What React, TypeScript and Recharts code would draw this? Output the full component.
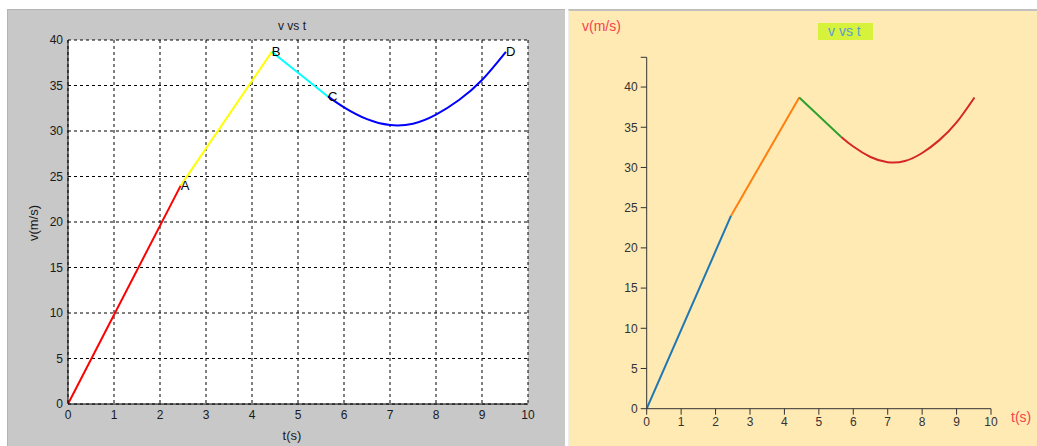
import { ComposedChart, Line, Scatter, XAxis, YAxis, CartesianGrid } from "recharts";

// ticks
const T_TICKS = [0, 1, 2, 3, 4, 5, 6, 7, 8, 9, 10];
const V_TICKS = [0, 5, 10, 15, 20, 25, 30, 35, 40];
const RIGHT_V_MAX = 43.7;

// segments
const OA_T = [0, 2.45];
const OA_V = [0, 24.0];
const AB_T = [2.45, 4.43];
const AB_V = [24.0, 38.7];
const BC_T = [4.43, 5.65];
const BC_V = [38.7, 33.8];
const CD_T = [5.65, 6.0, 6.5, 7.0, 7.5, 8.0, 8.5, 9.0, 9.52];
const CD_V = [33.8, 32.6, 31.3, 30.65, 30.8, 31.8, 33.4, 35.6, 38.7];

// point labels on the left chart
const POINT_NAMES = ["A", "B", "C", "D"];
const POINT_T = [2.45, 4.43, 5.65, 9.52];
const POINT_V = [24.0, 38.7, 33.8, 38.7];

const LEFT_COLORS = ["#ff0000", "#ffff00", "#00ffff", "#0000ff"];
const RIGHT_COLORS = ["#1f77b4", "#ff7f0e", "#2ca02c", "#d62728"];

const zip = (ts: number[], vs: number[]) => ts.map((t, i) => ({ t, v: vs[i] }));

const segments = [
  { key: "oa", data: zip(OA_T, OA_V), curve: "linear" },
  { key: "ab", data: zip(AB_T, AB_V), curve: "linear" },
  { key: "bc", data: zip(BC_T, BC_V), curve: "linear" },
  { key: "cd", data: zip(CD_T, CD_V), curve: "natural" },
];

const points = POINT_NAMES.map((name, i) => ({ name, t: POINT_T[i], v: POINT_V[i] }));

const FONT = "'Liberation Sans', Arial, sans-serif";

function LeftChart() {
  return (
    <div style={{ position: "absolute", left: 7, top: 9, width: 558, height: 437, background: "#c8c8c8", borderLeft: "1px solid #b4b4b4", borderTop: "1px solid #b4b4b4" }}>
      <div style={{ position: "absolute", left: -8, top: -10 }}>
        <ComposedChart width={560} height={446} margin={{ top: 40, right: 32, bottom: 0, left: 8 }}>
          <CartesianGrid stroke="#000000" strokeDasharray="3 3" fill="#ffffff" fillOpacity={1} />
          <XAxis
            dataKey="t"
            type="number"
            domain={[0, 10]}
            ticks={T_TICKS}
            height={42}
            tickLine={false}
            tickSize={0}
            tickMargin={6}
            axisLine={{ stroke: "#000000" }}
            tick={{ fill: "#1a1a1a", fontSize: 12, fontFamily: FONT }}
            allowDataOverflow
          />
          <YAxis
            dataKey="v"
            type="number"
            domain={[0, 40]}
            ticks={V_TICKS}
            width={60}
            tickLine={false}
            tickSize={0}
            tickMargin={5}
            axisLine={{ stroke: "#000000" }}
            tick={{ fill: "#1a1a1a", fontSize: 12, fontFamily: FONT }}
            allowDataOverflow
          />
          {segments.map((s, i) => (
            <Line
              key={s.key}
              data={s.data}
              dataKey="v"
              type={s.curve as "linear" | "natural"}
              stroke={LEFT_COLORS[i]}
              strokeWidth={2}
              dot={false}
              isAnimationActive={false}
            />
          ))}
          <Scatter
            data={points}
            dataKey="v"
            isAnimationActive={false}
            shape={(props: any) => (
              <text
                x={props.cx}
                y={props.cy}
                dominantBaseline="central"
                fontSize={13}
                fontFamily={FONT}
                fill="#000000"
              >
                {props.payload.name}
              </text>
            )}
          />
        </ComposedChart>
      </div>
      <div style={{ position: "absolute", left: 291 - 7 - 100, top: 18 - 9, width: 200, textAlign: "center", fontSize: 12, fontFamily: FONT, color: "#1a1a1a" }}>
        v vs t
      </div>
      <div style={{ position: "absolute", left: 291 - 7 - 100, top: 427 - 9, width: 200, textAlign: "center", fontSize: 13, fontFamily: FONT, color: "#1a1a1a" }}>
        t(s)
      </div>
      <div style={{ position: "absolute", left: 33 - 7 - 50, top: 222 - 9 - 8, width: 100, height: 16, lineHeight: "16px", textAlign: "center", fontSize: 13, fontFamily: FONT, color: "#1a1a1a", transform: "rotate(-90deg)" }}>
        v(m/s)
      </div>
    </div>
  );
}

function RightChart() {
  return (
    <div style={{ position: "absolute", left: 568, top: 9, width: 469, height: 437, background: "#ffeab4", borderLeft: "1px solid #eeeeee", borderTop: "2px solid #c0c0c0", boxSizing: "border-box" }}>
      <div style={{ position: "absolute", left: 0, top: 0 }}>
        <ComposedChart width={468} height={435} margin={{ top: 46.3, right: 46, bottom: 7.3, left: 37.7 }}>
          <XAxis
            dataKey="t"
            type="number"
            domain={[0, 10]}
            ticks={T_TICKS}
            height={30}
            tickSize={6}
            tickMargin={3}
            axisLine={{ stroke: "#333333" }}
            tickLine={{ stroke: "#333333" }}
            tick={{ fill: "#333333", fontSize: 12, fontFamily: FONT }}
            allowDataOverflow
          />
          <YAxis
            dataKey="v"
            type="number"
            domain={[0, RIGHT_V_MAX]}
            ticks={[...V_TICKS, RIGHT_V_MAX]}
            tickFormatter={(v: number) => (v === RIGHT_V_MAX ? "" : String(v))}
            width={40}
            tickSize={6}
            tickMargin={3}
            axisLine={{ stroke: "#333333" }}
            tickLine={{ stroke: "#333333" }}
            tick={{ fill: "#333333", fontSize: 12, fontFamily: FONT }}
            allowDataOverflow
          />
          {segments.map((s, i) => (
            <Line
              key={s.key}
              data={s.data}
              dataKey="v"
              type={s.curve as "linear" | "natural"}
              stroke={RIGHT_COLORS[i]}
              strokeWidth={2}
              dot={false}
              isAnimationActive={false}
            />
          ))}
        </ComposedChart>
      </div>
      <div style={{ position: "absolute", left: 581 - 568, top: 16 - 9, fontSize: 14, fontFamily: FONT, color: "#f4434b" }}>
        v(m/s)
      </div>
      <div style={{ position: "absolute", left: 817 - 568, top: 21 - 9, width: 55, height: 17, background: "#d7f23a", fontSize: 14, lineHeight: "17px", fontFamily: FONT, color: "#5b9bd5", paddingLeft: 10, boxSizing: "border-box" }}>
        v vs t
      </div>
      <div style={{ position: "absolute", left: 1010 - 568, top: 407 - 9, fontSize: 14, fontFamily: FONT, color: "#f4434b" }}>
        t(s)
      </div>
    </div>
  );
}

export default function App() {
  return (
    <div style={{ position: "absolute", left: 0, top: 0, width: 1037, height: 446, background: "#ffffff", overflow: "hidden" }}>
      <LeftChart />
      <div style={{ position: "absolute", left: 565, top: 9, width: 3, height: 437, background: "#ffffff" }} />
      <RightChart />
    </div>
  );
}
